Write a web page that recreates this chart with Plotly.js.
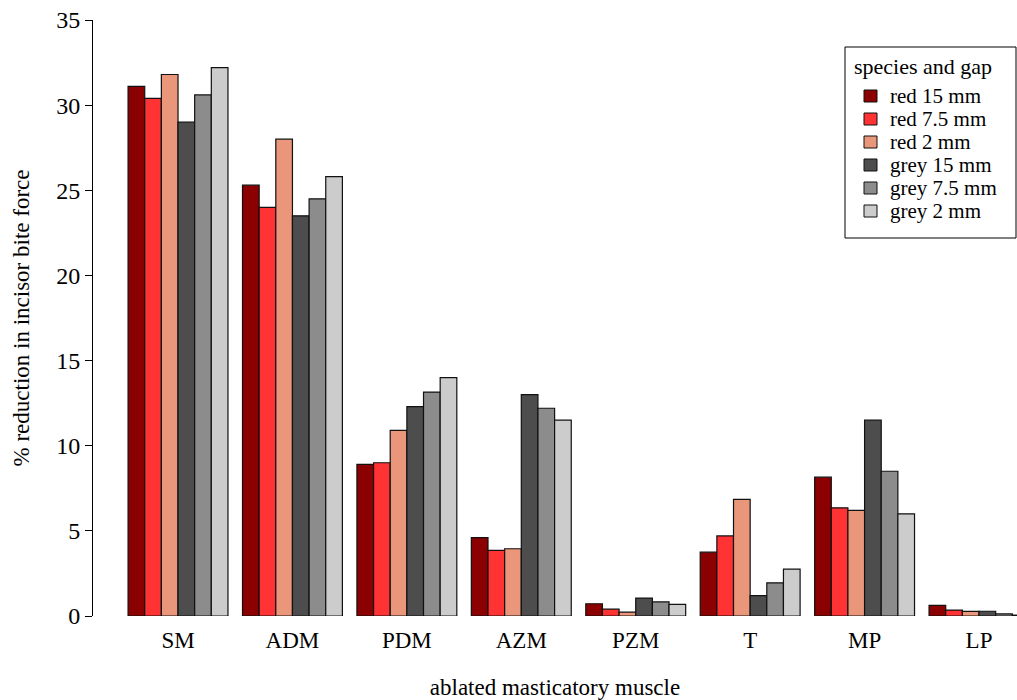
<!DOCTYPE html>
<html>
<head>
<meta charset="utf-8">
<script src="https://cdn.plot.ly/plotly-3.0.1.min.js"></script>
<style>html,body{margin:0;padding:0;background:#fff;}#chart{width:1017px;height:700px;}</style>
</head>
<body>
<div id="chart"></div>
<script>
const categories = ["SM", "ADM", "PDM", "AZM", "PZM", "T", "MP", "LP"];
const seriesNames = ["red 15 mm", "red 7.5 mm", "red 2 mm", "grey 15 mm", "grey 7.5 mm", "grey 2 mm"];
const red15   = [31.1, 25.3, 8.9, 4.6, 0.72, 3.75, 8.15, 0.62];
const red7_5  = [30.4, 24.0, 9.0, 3.85, 0.4, 4.7, 6.35, 0.35];
const red2    = [31.8, 28.0, 10.9, 3.95, 0.23, 6.85, 6.2, 0.27];
const grey15  = [29.0, 23.5, 12.3, 13.0, 1.05, 1.2, 11.5, 0.28];
const grey7_5 = [30.6, 24.5, 13.15, 12.2, 0.83, 1.95, 8.5, 0.12];
const grey2   = [32.2, 25.8, 14.0, 11.5, 0.68, 2.75, 6.0, 0.05];
const colors = ["#8B0000", "#FF3333", "#E9967A", "#4D4D4D", "#8C8C8C", "#CCCCCC"];
const legendTitle = "species and gap";

const allSeries = [red15, red7_5, red2, grey15, grey7_5, grey2];
const font = "Liberation Serif, Times New Roman, serif";

const W = 1017, H = 700, ML = 93, MR = 0, MT = 20, MB = 84;
const pw = W - ML - MR, ph = H - MT - MB;
const px = x => (x - ML) / pw;
const py = y => (H - MB - y) / ph;

const traces = allSeries.map((vals, i) => ({
  type: "bar",
  name: seriesNames[i],
  x: categories,
  y: vals,
  marker: {color: colors[i], line: {color: "#111", width: 1.2}},
  hoverinfo: "x+y+name",
  showlegend: false
}));

// manual legend (box, swatches, labels)
const shapes = [{
  type: "rect", xref: "paper", yref: "paper",
  x0: px(845), x1: px(1016), y0: py(238), y1: py(47),
  line: {color: "#000", width: 1}, fillcolor: "#fff", layer: "above"
}];
const annotations = [{
  xref: "paper", yref: "paper", x: px(853), y: py(66), xanchor: "left", yanchor: "middle",
  text: legendTitle, showarrow: false, borderpad: 0,
  font: {family: font, size: 22, color: "#000"}
}];
seriesNames.forEach((n, i) => {
  const cy = 96 + i * 23;
  shapes.push({
    type: "rect", xref: "paper", yref: "paper",
    x0: px(864), x1: px(877), y0: py(cy + 6), y1: py(cy - 6),
    line: {color: "#111", width: 1}, fillcolor: colors[i], layer: "above"
  });
  annotations.push({
    xref: "paper", yref: "paper", x: px(889), y: py(cy), xanchor: "left", yanchor: "middle",
    text: n, showarrow: false, borderpad: 0,
    font: {family: font, size: 21, color: "#000"}
  });
});

const layout = {
  width: W,
  height: H,
  margin: {l: ML, r: MR, t: MT, b: MB},
  paper_bgcolor: "#fff",
  plot_bgcolor: "#fff",
  font: {family: font, color: "#000", size: 23},
  barmode: "group",
  bargap: 0.127,
  bargroupgap: 0,
  showlegend: false,
  shapes: shapes,
  annotations: annotations,
  xaxis: {
    type: "category",
    range: [-0.743, 7.332],
    showline: false,
    showgrid: false,
    zeroline: false,
    ticks: "",
    tickfont: {family: font, size: 23, color: "#000"},
    ticklabelstandoff: 8,
    automargin: false,
    title: {text: "ablated masticatory muscle", font: {family: font, size: 23, color: "#000"}, standoff: 30}
  },
  yaxis: {
    range: [0, 35],
    tickvals: [0, 5, 10, 15, 20, 25, 30, 35],
    showline: true,
    linecolor: "#000",
    linewidth: 1,
    ticks: "outside",
    ticklen: 7,
    tickcolor: "#000",
    showgrid: false,
    zeroline: false,
    tickfont: {family: font, size: 24, color: "#000"},
    automargin: false,
    title: {text: "% reduction in incisor bite force", font: {family: font, size: 23, color: "#000"}, standoff: 20}
  }
};

Plotly.newPlot("chart", traces, layout, {displayModeBar: false, staticPlot: true});
</script>
</body>
</html>
